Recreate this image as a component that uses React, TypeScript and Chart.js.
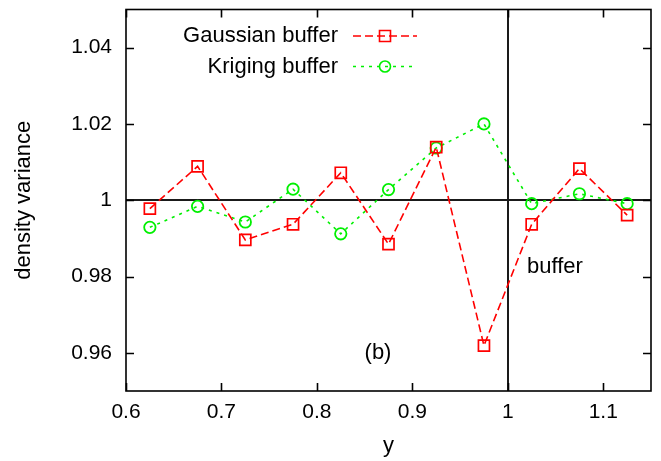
import React, { useEffect, useRef } from "react";
import { Chart, registerables } from "chart.js";

Chart.register(...registerables);

const xValues = [0.625, 0.675, 0.725, 0.775, 0.825, 0.875, 0.925, 0.975, 1.025, 1.075, 1.125];
const gaussianValues = [0.9978, 1.0089, 0.9896, 0.9937, 1.0072, 0.9885, 1.0139, 0.9619, 0.9937, 1.0083, 0.9961];
const krigingValues = [0.9929, 0.9984, 0.9943, 1.0029, 0.9912, 1.0028, 1.0137, 1.02, 0.9991, 1.0017, 0.9991];
const xTicks = [0.6, 0.7, 0.8, 0.9, 1, 1.1];
const xTickLabels = ["0.6", "0.7", "0.8", "0.9", "1", "1.1"];
const yTicks = [0.96, 0.98, 1, 1.02, 1.04];
const yTickLabels = ["0.96", "0.98", "1", "1.02", "1.04"];
const seriesNames = ["Gaussian buffer", "Kriging buffer"];

const FONT = "'Liberation Sans', Arial, Helvetica, sans-serif";
const RED = "#ff0000";
const GREEN = "#00f000";

const frameAndExtras = {
  id: "frameAndExtras",
  beforeDatasetsDraw(chart: any) {
    const { ctx, chartArea, scales } = chart;
    const x = scales.x;
    const y = scales.y;
    ctx.save();
    ctx.strokeStyle = "#1a1a1a";
    ctx.lineWidth = 2;
    const py = Math.round(y.getPixelForValue(1));
    ctx.beginPath();
    ctx.moveTo(chartArea.left, py);
    ctx.lineTo(chartArea.right, py);
    const px = Math.round(x.getPixelForValue(1));
    ctx.moveTo(px, chartArea.top);
    ctx.lineTo(px, chartArea.bottom);
    ctx.stroke();
    ctx.restore();
  },
  afterDraw(chart: any) {
    const { ctx, chartArea, scales } = chart;
    const { left, right, top, bottom } = chartArea;
    const x = scales.x;
    const y = scales.y;
    ctx.save();
    ctx.strokeStyle = "#000";
    ctx.lineWidth = 1.6;
    ctx.strokeRect(left, top, right - left, bottom - top);
    const tl = 8;
    ctx.beginPath();
    xTicks.forEach((v) => {
      const p = Math.round(x.getPixelForValue(v)) + 0.5;
      ctx.moveTo(p, bottom);
      ctx.lineTo(p, bottom - tl);
      ctx.moveTo(p, top);
      ctx.lineTo(p, top + tl);
    });
    yTicks.forEach((v) => {
      const p = Math.round(y.getPixelForValue(v)) + 0.5;
      ctx.moveTo(left, p);
      ctx.lineTo(left + tl, p);
      ctx.moveTo(right, p);
      ctx.lineTo(right - tl, p);
    });
    ctx.stroke();

    // annotations
    ctx.fillStyle = "#000";
    ctx.font = `22px ${FONT}`;
    ctx.textBaseline = "middle";
    ctx.textAlign = "center";
    ctx.fillText("(b)", x.getPixelForValue(0.864), y.getPixelForValue(0.9599));
    ctx.textAlign = "left";
    ctx.fillText("buffer", x.getPixelForValue(1.0201), y.getPixelForValue(0.9825));

    // legend
    const rows = [
      { name: seriesNames[0], color: RED, dash: [8, 4], style: "rect", dy: 26.5 },
      { name: seriesNames[1], color: GREEN, dash: [3, 5], style: "circle", dy: 57 },
    ];
    rows.forEach((r) => {
      const cy = top + r.dy;
      ctx.textAlign = "right";
      ctx.fillStyle = "#000";
      ctx.fillText(r.name, left + 212, cy);
      ctx.strokeStyle = r.color;
      ctx.lineWidth = 1.6;
      ctx.setLineDash(r.dash);
      ctx.beginPath();
      ctx.moveTo(left + 227, cy);
      ctx.lineTo(left + 291, cy);
      ctx.stroke();
      ctx.setLineDash([]);
      ctx.beginPath();
      const mx = left + 259;
      if (r.style === "rect") {
        ctx.rect(mx - 5.5, cy - 5.5, 11, 11);
      } else {
        ctx.arc(mx, cy, 5.5, 0, Math.PI * 2);
      }
      ctx.stroke();
    });
    ctx.restore();
  },
};

export default function App() {
  const ref = useRef<HTMLCanvasElement | null>(null);
  useEffect(() => {
    if (!ref.current) return;
    const chart = new Chart(ref.current, {
      type: "line",
      data: {
        datasets: [
          {
            label: seriesNames[0],
            data: xValues.map((v, i) => ({ x: v, y: gaussianValues[i] })),
            borderColor: RED,
            backgroundColor: "rgba(0,0,0,0)",
            borderWidth: 1.6,
            borderDash: [8, 4],
            pointStyle: "rect",
            pointRadius: 7.8,
            pointBorderWidth: 1.7,
            pointBorderColor: RED,
            pointBackgroundColor: "rgba(0,0,0,0)",
            tension: 0,
          },
          {
            label: seriesNames[1],
            data: xValues.map((v, i) => ({ x: v, y: krigingValues[i] })),
            borderColor: GREEN,
            backgroundColor: "rgba(0,0,0,0)",
            borderWidth: 1.6,
            borderDash: [3, 5],
            pointStyle: "circle",
            pointRadius: 5.7,
            pointBorderWidth: 1.8,
            pointBorderColor: GREEN,
            pointBackgroundColor: "rgba(0,0,0,0)",
            tension: 0,
          },
        ],
      },
      options: {
        responsive: false,
        animation: false,
        devicePixelRatio: 1,
        layout: { padding: { top: 9, right: 10, bottom: 0, left: 0 } },
        plugins: { legend: { display: false }, tooltip: { enabled: false } },
        scales: {
          x: {
            type: "linear",
            min: 0.6,
            max: 1.15,
            grid: { display: false, drawTicks: false },
            border: { display: false },
            afterBuildTicks: (s: any) => {
              s.ticks = xTicks.map((v) => ({ value: v }));
            },
            afterFit: (s: any) => {
              s.height = 70;
              s.paddingLeft = 0;
              s.paddingRight = 0;
              s.paddingTop = 0;
              s.paddingBottom = 0;
            },
            ticks: {
              padding: 9,
              color: "#000",
              font: { family: FONT, size: 21 },
              maxRotation: 0,
              autoSkip: false,
              callback: (v: any) => {
                const i = xTicks.findIndex((t) => Math.abs(t - v) < 1e-9);
                return i >= 0 ? xTickLabels[i] : "";
              },
            },
            title: {
              display: true,
              text: "y",
              color: "#000",
              font: { family: FONT, size: 22 },
              padding: { top: 0, bottom: 2 },
            },
          },
          y: {
            type: "linear",
            min: 0.95,
            max: 1.05,
            grid: { display: false, drawTicks: false },
            border: { display: false },
            afterBuildTicks: (s: any) => {
              s.ticks = yTicks.map((v) => ({ value: v }));
            },
            afterFit: (s: any) => {
              s.width = 126;
              s.paddingLeft = 0;
              s.paddingRight = 0;
              s.paddingTop = 0;
              s.paddingBottom = 0;
            },
            ticks: {
              padding: 14,
              color: "#000",
              font: { family: FONT, size: 21 },
              autoSkip: false,
              callback: (v: any) => {
                const i = yTicks.findIndex((t) => Math.abs(t - v) < 1e-9);
                return i >= 0 ? yTickLabels[i] : "";
              },
            },
            title: {
              display: true,
              text: "density variance",
              color: "#000",
              font: { family: FONT, size: 22 },
              padding: { top: 11, bottom: 0 },
            },
          },
        },
      },
      plugins: [frameAndExtras],
    } as any);
    return () => chart.destroy();
  }, []);
  return (
    <div style={{ position: "fixed", left: 0, top: 0, width: 661, height: 461, background: "#fff" }}>
      <canvas ref={ref} width={661} height={461} style={{ width: 661, height: 461, display: "block" }} />
    </div>
  );
}
